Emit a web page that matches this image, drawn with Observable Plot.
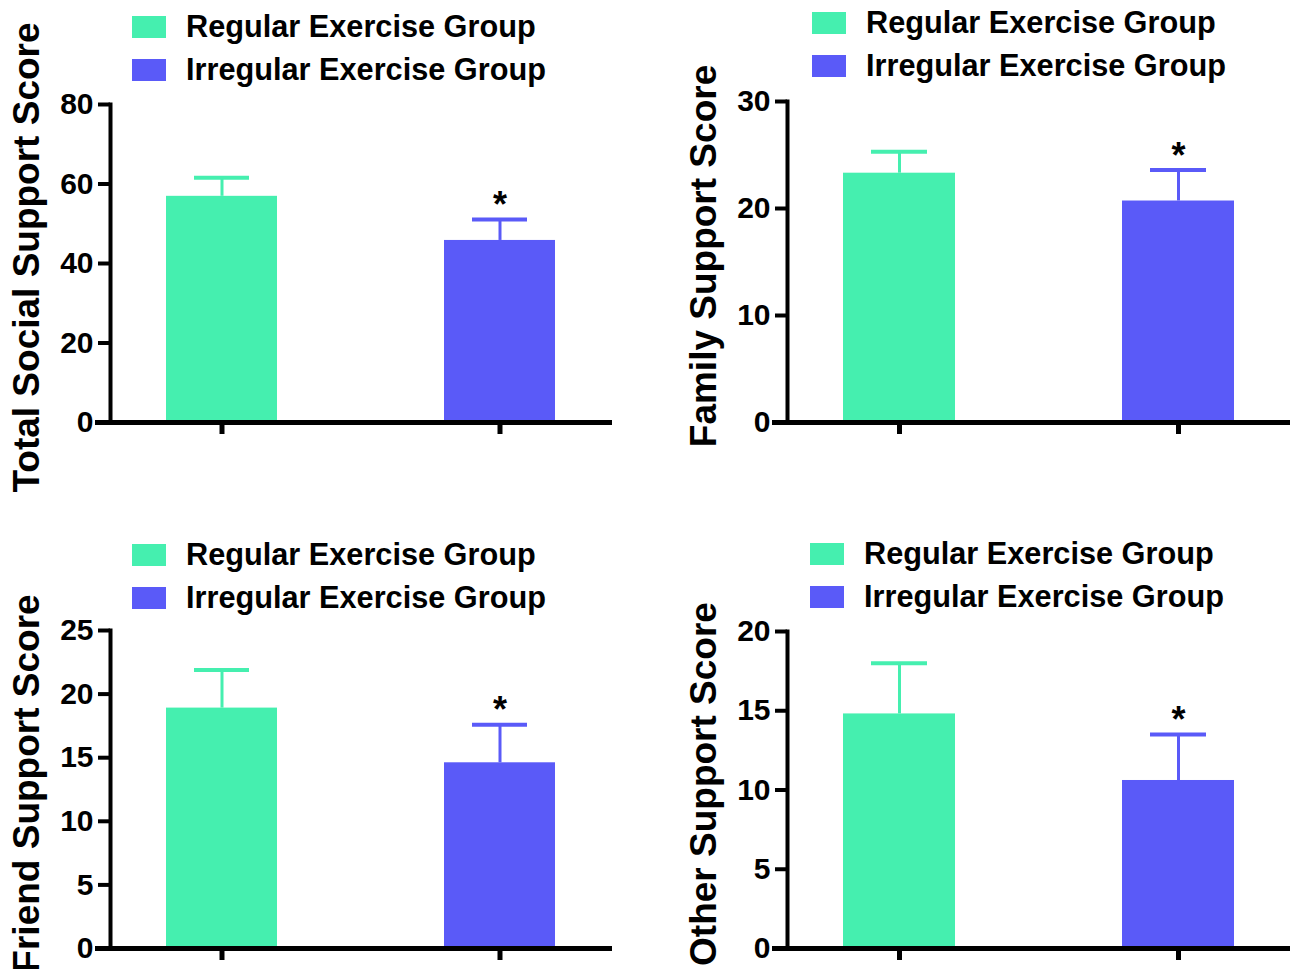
<!DOCTYPE html>
<html>
<head>
<meta charset="utf-8">
<script src="https://cdn.jsdelivr.net/npm/d3@7"></script>
<script src="https://cdn.jsdelivr.net/npm/@observablehq/plot@0.6"></script>
<style>
  body { margin: 0; background: #fff; }
  #fig { position: relative; width: 1290px; height: 969px; overflow: hidden;
         font-family: "Liberation Sans", Arial, Helvetica, sans-serif; }
  .panel { position: absolute; }
  .panel svg { overflow: visible; }
  .legend { position: absolute; font-weight: bold; font-size: 30.7px; color: #000; }
  .row { display: flex; align-items: center; height: 22px; margin-bottom: 21px; white-space: nowrap; }
  .sw { width: 34px; height: 22px; margin-right: 20px; flex: none; }
</style>
</head>
<body>
<div id="fig"></div>
<script>
// ---- data ----
const groups = ["Regular Exercise Group", "Irregular Exercise Group"];
const groupColors = ["#45EFAF", "#5A5AF8"];
const measures = ["Total Social Support Score", "Family Support Score", "Friend Support Score", "Other Support Score"];
const regularMeans   = [56.9, 23.3, 18.9, 14.8];
const irregularMeans = [45.8, 20.7, 14.6, 10.6];
const regularSD      = [4.7, 2.0, 3.0, 3.2];
const irregularSD    = [5.3, 2.9, 3.0, 2.9];
const yMax   = [80, 30, 25, 20];
const yTicks = [[0, 20, 40, 60, 80], [0, 10, 20, 30], [0, 5, 10, 15, 20, 25], [0, 5, 10, 15, 20]];
const significance = ["", "*"];

// ---- layout ----
const FONT = '"Liberation Sans", Arial, Helvetica, sans-serif';
const layout = [
  {left: 0,   top: 0,   width: 645, height: 484, ml: 110, mr: 33, mt: 104, mb: 62, lx: 132, ly: 16},
  {left: 645, top: 0,   width: 645, height: 484, ml: 142, mr: 0,  mt: 101, mb: 62, lx: 812, ly: 12},
  {left: 0,   top: 484, width: 645, height: 485, ml: 110, mr: 33, mt: 146, mb: 21, lx: 132, ly: 544},
  {left: 645, top: 484, width: 645, height: 485, ml: 142, mr: 0,  mt: 147, mb: 21, lx: 810, ly: 543}
];

const fig = document.getElementById("fig");

measures.forEach((measure, i) => {
  const L = layout[i];
  const data = groups.map((g, j) => ({
    group: g,
    mean: j === 0 ? regularMeans[i] : irregularMeans[i],
    sd: j === 0 ? regularSD[i] : irregularSD[i],
    sig: significance[j]
  }));

  const plot = Plot.plot({
    width: L.width, height: L.height,
    marginLeft: L.ml, marginRight: L.mr, marginTop: L.mt, marginBottom: L.mb,
    style: {fontFamily: FONT, fontWeight: "bold", fontSize: "30px", color: "#000", background: "transparent", overflow: "visible"},
    x: {domain: groups, paddingInner: 0.6, paddingOuter: 0.2, axis: null},
    y: {domain: [0, yMax[i]], axis: null},
    color: {domain: groups, range: groupColors},
    marks: [
      Plot.barY(data, {x: "group", y: "mean", fill: "group"}),
      Plot.ruleX(data, {x: "group", y1: "mean", y2: d => d.mean + d.sd, stroke: "group", strokeWidth: 3}),
      Plot.tickY(data, {x: "group", y: d => d.mean + d.sd, stroke: "group", strokeWidth: 4, insetLeft: 28, insetRight: 28}),
      Plot.text(data.filter(d => d.sig), {x: "group", y: d => d.mean + d.sd, text: "sig", dy: -14, fontSize: 36, fill: "#000"}),
      Plot.axisY({ticks: yTicks[i], tickSize: 12, tickPadding: 5, strokeWidth: 4, fontSize: 30, label: null, tickFormat: d => String(d)}),
      Plot.text([measure], {frameAnchor: "left", rotate: -90, textAnchor: "middle", lineAnchor: "top", dx: -98, dy: -6, fontSize: 37, fill: "#000"}),
      Plot.axisX({tickSize: 12, strokeWidth: 5, tickFormat: () => "", label: null}),
      Plot.frame({anchor: "left", strokeWidth: 4}),
      Plot.ruleY([0], {strokeWidth: 5, insetLeft: -15})
    ]
  });

  const div = document.createElement("div");
  div.className = "panel";
  div.style.left = L.left + "px";
  div.style.top = L.top + "px";
  div.appendChild(plot);
  fig.appendChild(div);

  const leg = document.createElement("div");
  leg.className = "legend";
  leg.style.left = L.lx + "px";
  leg.style.top = L.ly + "px";
  groups.forEach((g, j) => {
    const row = document.createElement("div");
    row.className = "row";
    const sw = document.createElement("div");
    sw.className = "sw";
    sw.style.background = groupColors[j];
    const t = document.createElement("span");
    t.textContent = g;
    row.appendChild(sw);
    row.appendChild(t);
    leg.appendChild(row);
  });
  fig.appendChild(leg);
});
</script>
</body>
</html>
